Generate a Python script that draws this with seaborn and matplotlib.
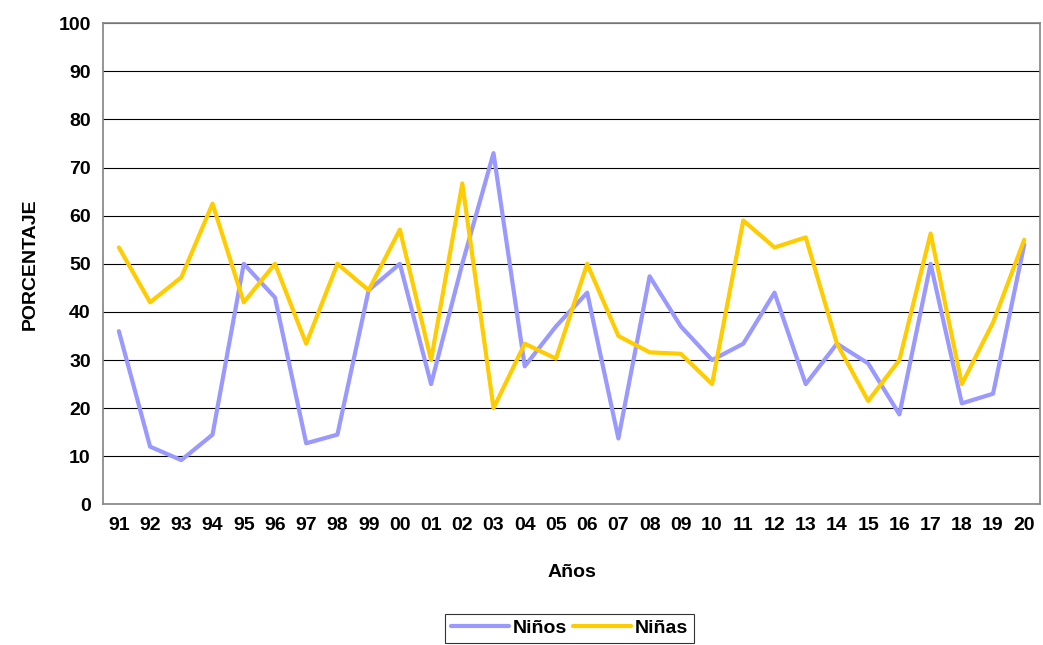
import matplotlib
matplotlib.use("Agg")
import matplotlib.pyplot as plt
import seaborn as sns
import pandas as pd

years = ["91","92","93","94","95","96","97","98","99","00","01","02","03","04","05",
         "06","07","08","09","10","11","12","13","14","15","16","17","18","19","20"]
ninos = [36,12,9.2,14.5,50,43,12.7,14.5,44.5,50,25,50,73,28.7,37,
         44,13.7,47.4,37,30,33.4,44,25,33.4,29.3,18.7,50,21,23,54]
ninas = [53.4,42,47.2,62.5,42,50,33.4,50,44.5,57.1,30,66.7,20,33.4,30.3,
         50,35,31.6,31.3,25,59,53.4,55.5,33.4,21.5,30,56.3,25,37.8,55]

sns.set_theme(style="white")
plt.rcParams['font.family'] = ['Liberation Sans', 'DejaVu Sans']
plt.rcParams['font.weight'] = 'bold'
plt.rcParams['axes.labelweight'] = 'bold'
plt.rcParams['text.color'] = 'black'
plt.rcParams['axes.labelcolor'] = 'black'
plt.rcParams['xtick.color'] = 'black'
plt.rcParams['ytick.color'] = 'black'

df = pd.DataFrame({"x": list(range(len(years))) * 2,
                   "v": ninos + ninas,
                   "s": ["Niños"] * len(years) + ["Niñas"] * len(years)})

fig = plt.figure(figsize=(10.43, 6.45), dpi=100)
ax = fig.add_axes([0.099, 0.218, 0.898, 0.746])
sns.lineplot(data=df, x="x", y="v", hue="s", palette={"Niños": "#9999FF", "Niñas": "#FFCC00"},
             linewidth=3, ax=ax, legend=False)
ax.set_xlim(-0.5, len(years) - 0.5)
ax.set_ylim(0, 100)
ax.set_yticks(range(0, 101, 10))
ax.set_xticks(range(len(years)))
ax.set_xticklabels(years)
ax.tick_params(labelsize=14, length=0, pad=9, colors='black')
for lab in ax.get_xticklabels() + ax.get_yticklabels():
    lab.set_fontweight('bold')
ax.yaxis.grid(True, color='black', linewidth=0.8)
for s in ax.spines.values():
    s.set_color('#888888')
ax.set_xlabel("Años", fontsize=14, fontweight='bold', labelpad=22, color='black')
ax.set_ylabel("PORCENTAJE", fontsize=14, fontweight='bold', labelpad=14, color='black')
from matplotlib.lines import Line2D
h = [Line2D([], [], color="#9999FF", lw=3), Line2D([], [], color="#FFCC00", lw=3)]
leg = fig.legend(h, ["Niños", "Niñas"], loc='lower center', bbox_to_anchor=(0.546, -0.012), ncol=2,
                 frameon=True, fancybox=False, edgecolor='black', prop={'size': 14, 'weight': 'bold'},
                 handlelength=3, columnspacing=0.3, handletextpad=0.2, borderpad=0.3)
leg.get_frame().set_linewidth(0.8)
fig.savefig("out.png", dpi=100)
